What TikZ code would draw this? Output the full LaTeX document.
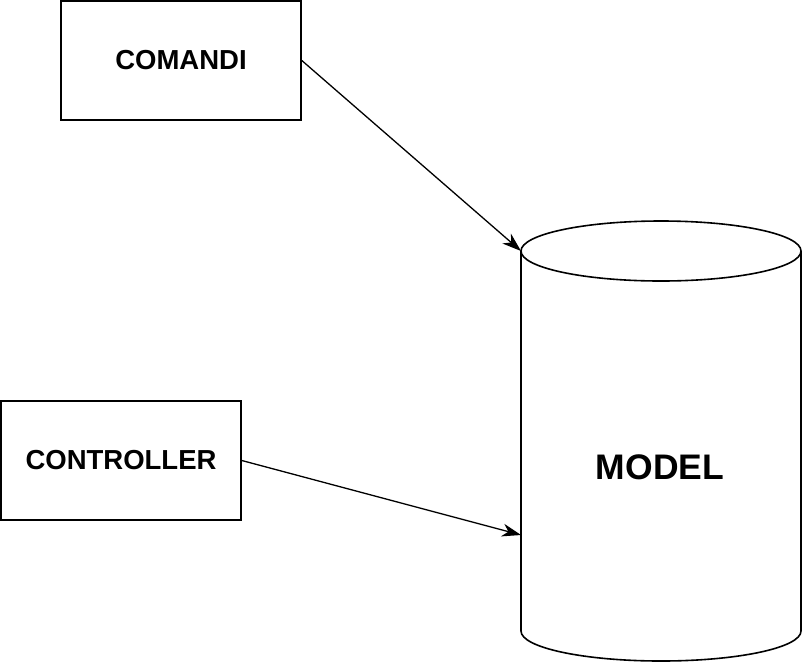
\documentclass[tikz,border=0pt]{standalone}
\usepackage{fontspec}
\setmainfont{Liberation Sans}
\usetikzlibrary{arrows.meta}
\begin{document}
\begin{tikzpicture}[x=1pt,y=-1pt,
  box/.style={draw, line width=1.6pt, minimum width=240pt, minimum height=119pt, inner sep=0pt, font=\fontsize{27.5}{30}\selectfont\bfseries},
  shapeline/.style={line width=1.6pt},
  conn/.style={line width=1.3pt, -{Stealth[length=19pt,width=13pt,inset=6pt]}}]
\useasboundingbox (0,0) rectangle (802,662);
\node[box] (comandi) at (181,60.5) {COMANDI};
\node[box] (controller) at (121,460.5) {CONTROLLER};
% cylinder
\draw[shapeline] (661,251) ellipse [x radius=140, y radius=30];
\draw[shapeline] (521,251) -- (521,631)
  .. controls (521,647.57) and (583.7,661) .. (661,661)
  .. controls (738.3,661) and (801,647.57) .. (801,631) -- (801,251);
\node[font=\fontsize{35.5}{40}\selectfont\bfseries] (model) at (660,467) {MODEL};
\coordinate (mtop) at (521,251);
\coordinate (mside) at (521,535);
\draw[conn] (comandi.east) -- (mtop);
\draw[conn] (controller.east) -- (mside);
\end{tikzpicture}
\end{document}
